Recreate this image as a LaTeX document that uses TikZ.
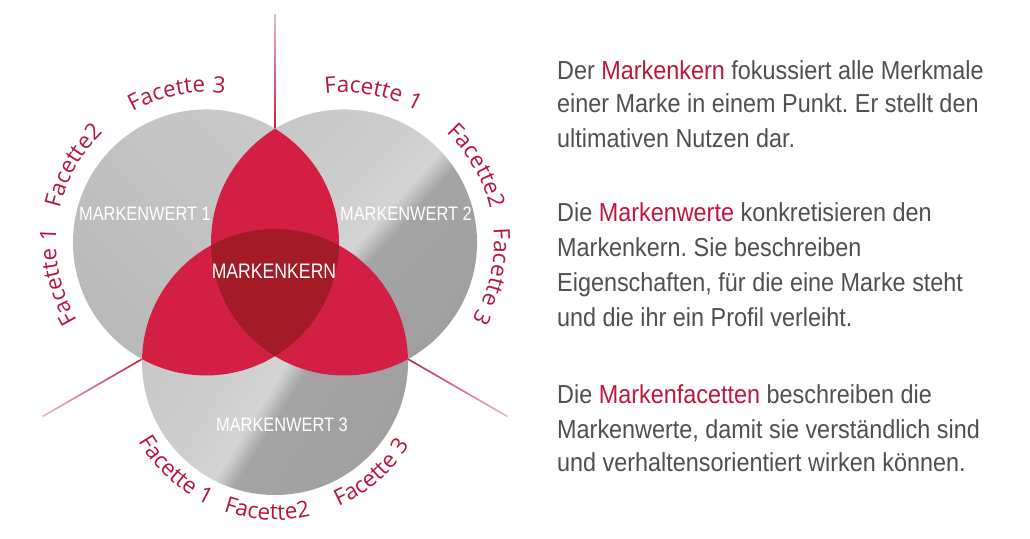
\documentclass[tikz,border=0pt]{standalone}
\usepackage{fontspec}
\setmainfont{Liberation Sans}
\newfontfamily\bodyfont[FakeStretch=0.9]{Liberation Sans}
\newfontfamily\capfont[FakeStretch=0.84]{Liberation Sans}
\newfontfamily\facfont[LetterSpace=3]{Open Sans}
\usetikzlibrary{decorations.text,calc}
\definecolor{lensred}{HTML}{D41F45}
\definecolor{corered}{HTML}{A31B26}
\definecolor{facred}{HTML}{B8173C}
\definecolor{txtgray}{HTML}{505050}
\definecolor{hlred}{HTML}{C0163B}
\definecolor{linered}{HTML}{C42548}
\definecolor{gdark}{HTML}{A0A0A0}
\definecolor{ghigh}{HTML}{D4D4D4}
\definecolor{glight}{HTML}{C7C7C7}
\pgfdeclareverticalshading{wertshade}{100bp}{color(0bp)=(gdark); color(25bp)=(gdark); color(44bp)=(gdark!96!white); color(48bp)=(ghigh); color(56bp)=(glight!50!ghigh); color(75bp)=(glight); color(100bp)=(glight)}
\newcommand\hl[1]{\textcolor{hlred}{#1}}
\frenchspacing
\tikzset{
  bodyline/.style={anchor=base west, inner sep=0pt, text=txtgray, font=\bodyfont\fontsize{26}{30}\selectfont},
  wertlabel/.style={anchor=base, inner sep=0pt, text=white, font=\capfont\fontsize{19.5}{20}\selectfont},
  kernlabel/.style={anchor=base, inner sep=0pt, text=white, font=\capfont\fontsize{21}{22}\selectfont},
  facdeco/.style={decorate, decoration={text along path, text align=center, text={|\facfont\fontsize{22.5}{22.5}\selectfont\color{facred}|#1}}}
}
\begin{document}
\begin{tikzpicture}[x=1pt,y=1pt]
\useasboundingbox (0,0) rectangle (1030,-538);
\fill[white] (0,0) rectangle (1030,-538);
\coordinate (G) at (275,-282.3);
\coordinate (c1) at ($(G)+(150:79.7pt)$);
\coordinate (c2) at ($(G)+(30:79.7pt)$);
\coordinate (c3) at ($(G)+(270:79.7pt)$);
% radial lines, fading outward
\foreach \a in {90,210,330}{
  \foreach \i in {0,...,23}{
    \pgfmathsetmacro\ra{153.5+\i*4.77}
    \pgfmathsetmacro\rb{\ra+5.2}
    \pgfmathsetmacro\op{100-\i*2.9}
    \draw[linered!\op, line width=1.6pt] ($(G)+(\a:\ra pt)$) -- ($(G)+(\a:\rb pt)$);
  }
}
% grey circles
\shade[top color=glight!95!white, bottom color=glight!93!black, shading angle=-45] (c1) circle[radius=133pt];
\shade[shading=wertshade, shading angle=48] (c2) circle[radius=133pt];
\shade[shading=wertshade, shading angle=58] (c3) circle[radius=133pt];
% red lenses
\begin{scope}
  \clip (c1) circle[radius=133pt];
  \fill[lensred] (c2) circle[radius=133pt];
  \fill[lensred] (c3) circle[radius=133pt];
\end{scope}
\begin{scope}
  \clip (c2) circle[radius=133pt];
  \fill[lensred] (c3) circle[radius=133pt];
\end{scope}
\begin{scope}
  \clip (c1) circle[radius=133pt];
  \clip (c2) circle[radius=133pt];
  \fill[corered] (c3) circle[radius=133pt];
\end{scope}
% white labels
\node[wertlabel] (w1) at (145,-220.5) {MARKENWERT 1};
\node[wertlabel] (w2) at (406,-220.5) {MARKENWERT 2};
\node[kernlabel] (kern) at (274,-278.5) {MARKENKERN};
\node[wertlabel] (w3) at (282,-431.5) {MARKENWERT 3};
% facet labels, circle 1
\path[facdeco={Facette 3}] ($(c1)+(131:150pt)$) arc[start angle=131, end angle=71, radius=150pt];
\path[facdeco={Facette2}] ($(c1)+(180:150pt)$) arc[start angle=180, end angle=120, radius=150pt];
\path[facdeco={Facette 1}] ($(c1)+(223:150pt)$) arc[start angle=223, end angle=163, radius=150pt];
% circle 2
\path[facdeco={Facette 1}] ($(c2)+(109:150pt)$) arc[start angle=109, end angle=49, radius=150pt];
\path[facdeco={Facette2}] ($(c2)+(60:150pt)$) arc[start angle=60, end angle=0, radius=150pt];
\path[facdeco={Facette 3}] ($(c2)+(17:150pt)$) arc[start angle=17, end angle=-43, radius=150pt];
% circle 3
\path[facdeco={Facette 1}] ($(c3)+(197.5:158pt)$) arc[start angle=197.5, end angle=257.5, radius=158pt];
\path[facdeco={Facette2}] ($(c3)+(237:158pt)$) arc[start angle=237, end angle=297, radius=158pt];
\path[facdeco={Facette 3}] ($(c3)+(281:158pt)$) arc[start angle=281, end angle=341, radius=158pt];
% right text
\node[bodyline] (l1) at (557,-79.3) {Der \hl{Markenkern} fokussiert alle Merkmale};
\node[bodyline] (l2) at (557,-112.7) {einer Marke in einem Punkt. Er stellt den};
\node[bodyline] (l3) at (557,-147.3) {ultimativen Nutzen dar.};
\node[bodyline] (l4) at (557,-221.7) {Die \hl{Markenwerte} konkretisieren den};
\node[bodyline] (l5) at (557,-256.7) {Markenkern. Sie beschreiben};
\node[bodyline] (l6) at (557,-291.7) {Eigenschaften, für die eine Marke steht};
\node[bodyline] (l7) at (557,-326) {und die ihr ein Profil verleiht.};
\node[bodyline] (l8) at (557,-403.3) {Die \hl{Markenfacetten} beschreiben die};
\node[bodyline] (l9) at (557,-438.3) {Markenwerte, damit sie verständlich sind};
\node[bodyline] (l10) at (557,-471.7) {und verhaltensorientiert wirken können.};
\end{tikzpicture}
\end{document}
